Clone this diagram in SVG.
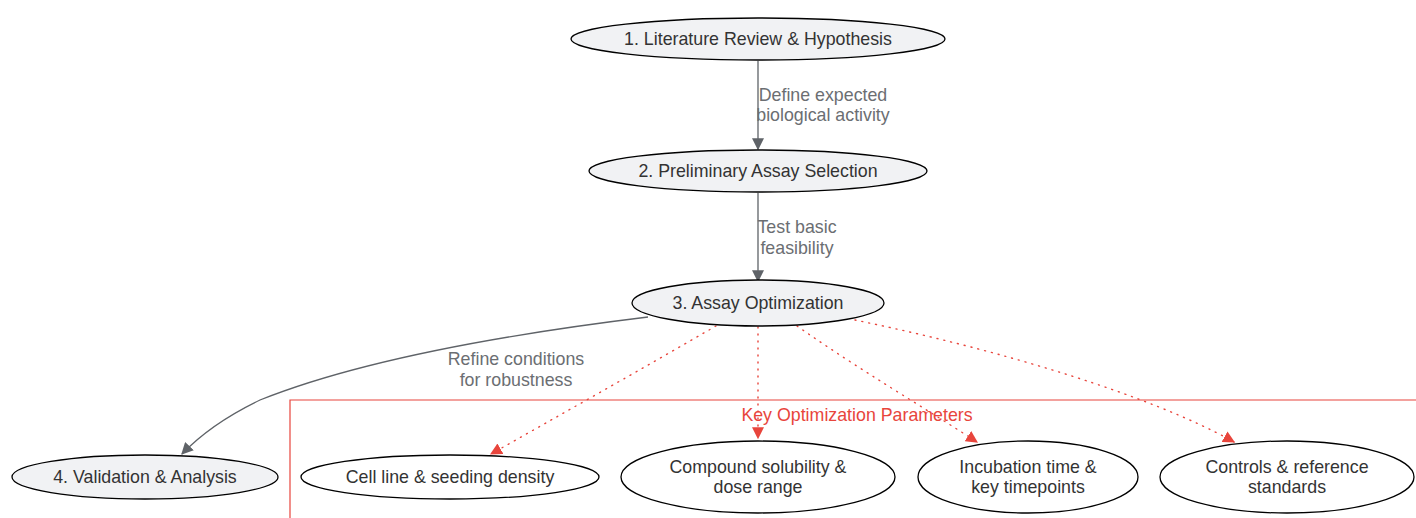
<svg xmlns="http://www.w3.org/2000/svg" width="1416" height="518" viewBox="0 0 1416 518">
<style>
.n ellipse{stroke:#000;stroke-width:1.3}
.g ellipse{fill:#f1f2f4}
.w ellipse{fill:#fff}
text{font-family:"Liberation Sans",Arial,sans-serif;font-size:17.8px;text-anchor:middle}
.n text{fill:#333}
.lbl{fill:#6b6e72}
.e{fill:none;stroke:#5f6368;stroke-width:1.3}
.d{fill:none;stroke:#e8453c;stroke-width:1.4;stroke-dasharray:1 6;stroke-linecap:round}
.cl{fill:#e8453c}
</style>
<defs>
<marker id="ag" viewBox="0 0 10 10" refX="9" refY="5" markerWidth="12" markerHeight="12" markerUnits="userSpaceOnUse" orient="auto"><path d="M0,0L10,5L0,10z" fill="#5f6368"/></marker>
<marker id="ar" viewBox="0 0 10 10" refX="9" refY="5" markerWidth="12" markerHeight="12" markerUnits="userSpaceOnUse" orient="auto"><path d="M0,0L10,5L0,10z" fill="#e8453c"/></marker>
</defs>
<g id="cluster">
<path d="M290,518V400H1416" fill="none" stroke="#e8453c" stroke-width="1.2"/>
<text class="cl" x="857" y="421">Key Optimization Parameters</text>
</g>
<g id="connectors">
<path class="e" d="M758,61V149" marker-end="url(#ag)"/>
<text class="lbl" x="823" y="101">Define expected</text>
<text class="lbl" x="823" y="121">biological activity</text>
<path class="e" d="M758,193V281" marker-end="url(#ag)"/>
<text class="lbl" x="797" y="233">Test basic</text>
<text class="lbl" x="797" y="254">feasibility</text>
<path class="e" d="M648,317C500,335 360,360 260,400C235,412 205,430 182,454" marker-end="url(#ag)"/>
<text class="lbl" x="516" y="365">Refine conditions</text>
<text class="lbl" x="516" y="386">for robustness</text>
<path class="d" d="M716,326C640,370 560,415 491,454" marker-end="url(#ar)"/>
<path class="d" d="M758,327V438" marker-end="url(#ar)"/>
<path class="d" d="M797,326C860,370 920,405 977,442" marker-end="url(#ar)"/>
<path class="d" d="M855,320C1000,350 1150,395 1234,442" marker-end="url(#ar)"/>
</g>
<g id="n1" class="n g"><ellipse cx="758" cy="39" rx="187" ry="21"/><text x="758" y="45">1. Literature Review &amp; Hypothesis</text></g>
<g id="n2" class="n g"><ellipse cx="758" cy="171" rx="169" ry="21"/><text x="758" y="177">2. Preliminary Assay Selection</text></g>
<g id="n3" class="n g"><ellipse cx="758" cy="303" rx="126" ry="23"/><text x="758" y="309">3. Assay Optimization</text></g>
<g id="n4" class="n g"><ellipse cx="145" cy="477" rx="133" ry="22"/><text x="145" y="483">4. Validation &amp; Analysis</text></g>
<g id="p1" class="n w"><ellipse cx="450" cy="477" rx="149" ry="22"/><text x="450" y="483">Cell line &amp; seeding density</text></g>
<g id="p2" class="n w"><ellipse cx="758" cy="477" rx="137" ry="36"/><text x="758" y="473">Compound solubility &amp;</text><text x="758" y="493">dose range</text></g>
<g id="p3" class="n w"><ellipse cx="1028" cy="477" rx="110" ry="36"/><text x="1028" y="473">Incubation time &amp;</text><text x="1028" y="493">key timepoints</text></g>
<g id="p4" class="n w"><ellipse cx="1287" cy="477" rx="127" ry="36"/><text x="1287" y="473">Controls &amp; reference</text><text x="1287" y="493">standards</text></g>
</svg>
